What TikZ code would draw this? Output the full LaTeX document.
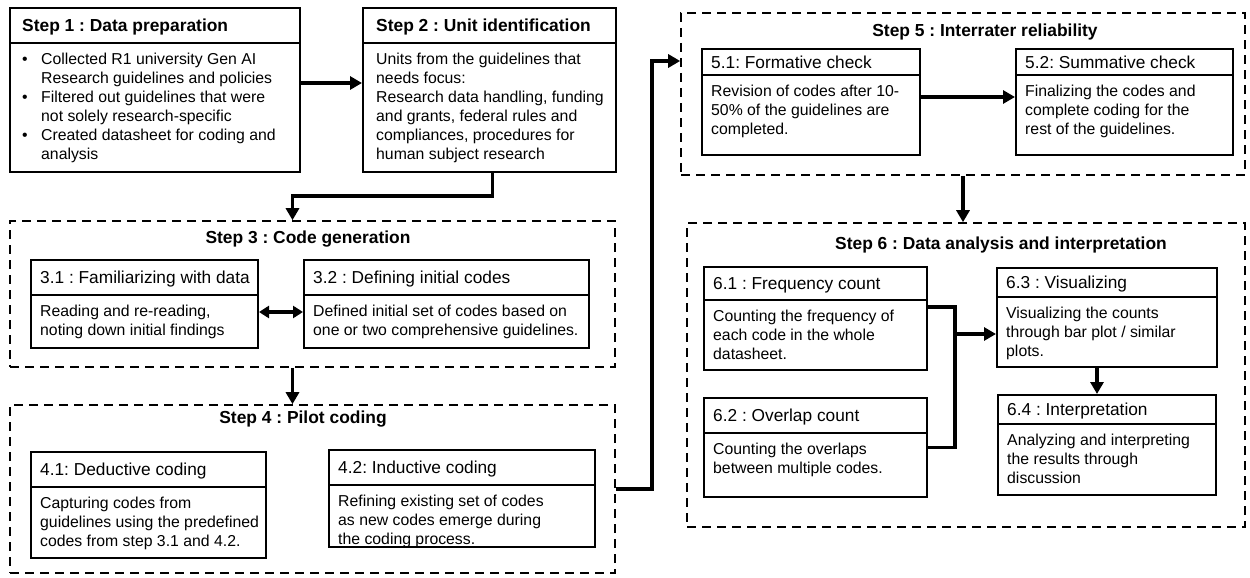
\documentclass[tikz,border=0pt]{standalone}
\usepackage{fontspec}
\setmainfont{Liberation Sans}
\usetikzlibrary{arrows.meta,fit,calc}
\frenchspacing

\newcommand\bodyf{\fontsize{15.8}{19}\selectfont}
\newcommand\stepf{\fontsize{17.4}{20}\selectfont\bfseries}
\newcommand\subf{\fontsize{17.3}{20}\selectfont}

\tikzset{
  boxframe/.style={draw, line width=2pt, inner sep=0pt},
  dashframe/.style={draw, line width=1.6pt, dash pattern=on 9pt off 6pt, inner sep=0pt},
  divider/.style={line width=2pt},
  conn/.style={line width=3.6pt},
  arr/.style={conn, -{Triangle[length=12pt,width=13pt]}},
  darr/.style={conn, {Triangle[length=10pt,width=12pt]}-{Triangle[length=10pt,width=12pt]}},
  steptitle/.style={font=\stepf, inner sep=0pt},
  subtitle/.style={font=\subf, inner sep=0pt, anchor=base west},
  bodytext/.style={font=\bodyf, inner sep=0pt, align=left, anchor=north west},
}

% name, x1, y1, x2, ydiv, y2, title, body
\newcommand\subbox[8]{%
  \coordinate (#1-nw) at (#2,#3);
  \coordinate (#1-se) at (#4,#6);
  \node[boxframe, fit=(#1-nw)(#1-se)] (#1) {};
  \draw[divider] (#2,#5) -- (#4,#5);
  \node[subtitle] (#1-t) at ({#2+9},{(#3+#5)/2+6}) {#7};
  \node[bodytext] (#1-b) at ({#2+9},{#5+9.5}) {#8};
}
% name, x1, y1, x2, y2
\newcommand\stepframe[5]{%
  \coordinate (#1-nw) at (#2,#3);
  \coordinate (#1-se) at (#4,#5);
  \node[dashframe, fit=(#1-nw)(#1-se)] (#1) {};
}

\begin{document}
\begin{tikzpicture}[x=1pt,y=-1pt]
\fill[white] (0,0) rectangle (1250,578);
\useasboundingbox (0,0) rectangle (1250,578);

% Step 1
\coordinate (s1-nw) at (10,8); \coordinate (s1-se) at (300,172);
\node[boxframe, fit=(s1-nw)(s1-se)] (s1) {};
\draw[divider] (10,43) -- (300,43);
\node[steptitle, anchor=base west] (s1-t) at (22,31.5) {Step 1 : Data preparation};
\node[bodytext] (s1-b) at (22,52.5) {\makebox[19pt][l]{\textbullet}Collected R1 university Gen AI\\
\hspace*{19pt}Research guidelines and policies\\
\makebox[19pt][l]{\textbullet}Filtered out guidelines that were\\
\hspace*{19pt}not solely research-specific\\
\makebox[19pt][l]{\textbullet}Created datasheet for coding and\\
\hspace*{19pt}analysis};

% Step 2
\coordinate (s2-nw) at (363,8); \coordinate (s2-se) at (616,172);
\node[boxframe, fit=(s2-nw)(s2-se)] (s2) {};
\draw[divider] (363,43) -- (616,43);
\node[steptitle, anchor=base west] (s2-t) at (376,31.5) {Step 2 : Unit identification};
\node[bodytext] (s2-b) at (376,52.5) {Units from the guidelines that\\
needs focus:\\
Research data handling, funding\\
and grants, federal rules and\\
compliances, procedures for\\
human subject research};

% Step 3
\stepframe{s3}{10}{221}{615}{367}
\node[steptitle] (s3-t) at (308,239) {Step 3 : Code generation};
\subbox{b31}{31}{260}{258}{295}{348}{3.1 : Familiarizing with data}{Reading and re-reading,\\noting down initial findings}
\subbox{b32}{304}{260}{589}{295}{348}{3.2 : Defining initial codes}{Defined initial set of codes based on\\one or two comprehensive guidelines.}

% Step 4
\stepframe{s4}{10}{405}{615}{573}
\node[steptitle] (s4-t) at (303,419) {Step 4 : Pilot coding};
\subbox{b41}{31}{452}{266}{487}{558}{4.1: Deductive coding}{Capturing codes from\\guidelines using the predefined\\codes from step 3.1 and 4.2.}
\subbox{b42}{329}{450}{595}{485}{547}{4.2: Inductive coding}{Refining existing set of codes\\as new codes emerge during\\the coding process.}

% Step 5
\stepframe{s5}{681}{13}{1245}{175}
\node[steptitle] (s5-t) at (985,32) {Step 5 : Interrater reliability};
\subbox{b51}{702}{49}{920}{75}{155}{5.1: Formative check}{Revision of codes after 10-\\50\% of the guidelines are\\completed.}
\subbox{b52}{1016}{49}{1233}{75}{155}{5.2: Summative check}{Finalizing the codes and\\complete coding for the\\rest of the guidelines.}

% Step 6
\stepframe{s6}{687}{223}{1245}{527}
\node[steptitle] (s6-t) at (1001,245) {Step 6 : Data analysis and interpretation};
\subbox{b61}{704}{267}{927}{300}{370}{6.1 : Frequency count}{Counting the frequency of\\each code in the whole\\datasheet.}
\subbox{b62}{704}{398}{927}{433}{497}{6.2 : Overlap count}{Counting the overlaps\\between multiple codes.}
\subbox{b63}{997}{268}{1217}{297}{367}{6.3 : Visualizing}{Visualizing the counts\\through bar plot / similar\\plots.}
\subbox{b64}{998}{395}{1216}{424}{495}{6.4 : Interpretation}{Analyzing and interpreting\\the results through\\discussion}

% connectors
\draw[arr] ([yshift=7pt]s1.east) -- ([yshift=7pt]s2.west);
\draw[arr] ([xshift=3pt]s2.south) -- ++(0,23) -| ([xshift=-20pt]s3.north);
\draw[darr] ([yshift=-8pt]b31.east) -- ([yshift=-8pt]b32.west);
\draw[arr] ([xshift=-20pt]s3.south) -- ([xshift=-20pt]s4.north);
\draw[arr] (s4.east) -- ++(36,0) |- ([yshift=33pt]s5.west);
\draw[arr] ([yshift=5pt]b51.east) -- ([yshift=5pt]b52.west);
\draw[arr] (s5.south) -- (s5.south |- s6.north);
\coordinate (j6) at (955,334);
\draw[conn] ([yshift=11.5pt]b61.east) -| (j6) |- (b62.east);
\draw[arr] (j6) -- (j6 -| b63.west);
\draw[arr] ([xshift=-10pt]b63.south) -- ([xshift=-10pt]b64.north);
\end{tikzpicture}
\end{document}
